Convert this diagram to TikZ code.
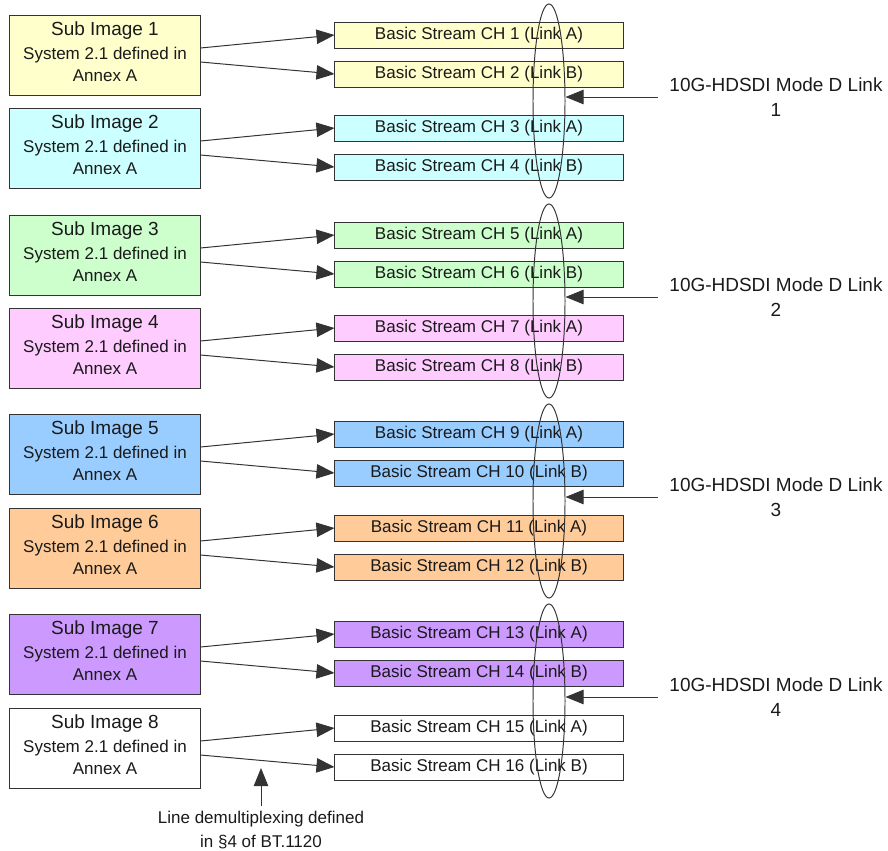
\documentclass[tikz,border=0pt]{standalone}
\usepackage{fontspec}
\setmainfont{Liberation Sans}
\usetikzlibrary{arrows.meta,shapes.geometric,calc}
\definecolor{ink}{HTML}{1A1A1A}
\definecolor{edge}{HTML}{333333}
\definecolor{subyellow}{HTML}{FFFFCC}
\definecolor{subcyan}{HTML}{CCFFFF}
\definecolor{subgreen}{HTML}{CCFFCC}
\definecolor{subpink}{HTML}{FFCCFF}
\definecolor{subblue}{HTML}{99CCFF}
\definecolor{suborange}{HTML}{FFCC99}
\definecolor{subpurple}{HTML}{CC99FF}

\begin{document}
\begin{tikzpicture}[x=0.025cm, y=-0.025cm,
  subimg/.style={draw=edge, line width=0.7pt, minimum width=4.75cm, minimum height=2cm,
                 align=center, font=\fontsize{12.1}{15.6}\selectfont, text=ink, inner sep=1pt,
                 text depth=5pt},
  stream/.style={draw=edge, line width=0.7pt, minimum width=7.2cm, minimum height=0.65cm,
                 font=\fontsize{12.1}{14}\selectfont, text=ink, inner sep=0pt},
  linkring/.style={ellipse, draw=edge, line width=0.7pt, minimum width=0.8cm,
                   minimum height=4.85cm, inner sep=0pt},
  linklabel/.style={align=center, font=\fontsize{13.5}{17.8}\selectfont, text=ink, inner xsep=8pt},
  flarrow/.style={-{Triangle[length=0.45cm,width=0.36cm]}, edge, line width=0.7pt}
]
  \useasboundingbox (0,0) rectangle (888,850);

  % ── Left: Sub images ──
  \node[subimg, fill=subyellow] (sub1) at (105,55)
    {{\fontsize{13.5}{16}\selectfont Sub Image 1}\\[2pt] System 2.1 defined in\\ Annex A};
  \node[subimg, fill=subcyan] (sub2) at (105,148)
    {{\fontsize{13.5}{16}\selectfont Sub Image 2}\\[2pt] System 2.1 defined in\\ Annex A};
  \node[subimg, fill=subgreen] (sub3) at (105,255)
    {{\fontsize{13.5}{16}\selectfont Sub Image 3}\\[2pt] System 2.1 defined in\\ Annex A};
  \node[subimg, fill=subpink] (sub4) at (105,348)
    {{\fontsize{13.5}{16}\selectfont Sub Image 4}\\[2pt] System 2.1 defined in\\ Annex A};
  \node[subimg, fill=subblue] (sub5) at (105,454)
    {{\fontsize{13.5}{16}\selectfont Sub Image 5}\\[2pt] System 2.1 defined in\\ Annex A};
  \node[subimg, fill=suborange] (sub6) at (105,548)
    {{\fontsize{13.5}{16}\selectfont Sub Image 6}\\[2pt] System 2.1 defined in\\ Annex A};
  \node[subimg, fill=subpurple] (sub7) at (105,654)
    {{\fontsize{13.5}{16}\selectfont Sub Image 7}\\[2pt] System 2.1 defined in\\ Annex A};
  \node[subimg, fill=white] (sub8) at (105,748)
    {{\fontsize{13.5}{16}\selectfont Sub Image 8}\\[2pt] System 2.1 defined in\\ Annex A};

  % ── Middle: Basic streams ──
  \node[stream, fill=subyellow] (ch1) at (479,35) {Basic Stream CH 1 (Link A)};
  \node[stream, fill=subyellow] (ch2) at (479,74) {Basic Stream CH 2 (Link B)};
  \node[stream, fill=subcyan] (ch3) at (479,128) {Basic Stream CH 3 (Link A)};
  \node[stream, fill=subcyan] (ch4) at (479,167) {Basic Stream CH 4 (Link B)};
  \node[stream, fill=subgreen] (ch5) at (479,235) {Basic Stream CH 5 (Link A)};
  \node[stream, fill=subgreen] (ch6) at (479,274) {Basic Stream CH 6 (Link B)};
  \node[stream, fill=subpink] (ch7) at (479,328) {Basic Stream CH 7 (Link A)};
  \node[stream, fill=subpink] (ch8) at (479,367) {Basic Stream CH 8 (Link B)};
  \node[stream, fill=subblue] (ch9) at (479,434) {Basic Stream CH 9 (Link A)};
  \node[stream, fill=subblue] (ch10) at (479,473) {Basic Stream CH 10 (Link B)};
  \node[stream, fill=suborange] (ch11) at (479,528) {Basic Stream CH 11 (Link A)};
  \node[stream, fill=suborange] (ch12) at (479,567) {Basic Stream CH 12 (Link B)};
  \node[stream, fill=subpurple] (ch13) at (479,634) {Basic Stream CH 13 (Link A)};
  \node[stream, fill=subpurple] (ch14) at (479,673) {Basic Stream CH 14 (Link B)};
  \node[stream, fill=white] (ch15) at (479,728) {Basic Stream CH 15 (Link A)};
  \node[stream, fill=white] (ch16) at (479,767) {Basic Stream CH 16 (Link B)};

  % Arrows: sub images → streams
  \draw[flarrow] ($(sub1.east)+(0,-7)$) -- (ch1.west);
  \draw[flarrow] ($(sub1.east)+(0,7)$) -- (ch2.west);
  \draw[flarrow] ($(sub2.east)+(0,-7)$) -- (ch3.west);
  \draw[flarrow] ($(sub2.east)+(0,7)$) -- (ch4.west);
  \draw[flarrow] ($(sub3.east)+(0,-7)$) -- (ch5.west);
  \draw[flarrow] ($(sub3.east)+(0,7)$) -- (ch6.west);
  \draw[flarrow] ($(sub4.east)+(0,-7)$) -- (ch7.west);
  \draw[flarrow] ($(sub4.east)+(0,7)$) -- (ch8.west);
  \draw[flarrow] ($(sub5.east)+(0,-7)$) -- (ch9.west);
  \draw[flarrow] ($(sub5.east)+(0,7)$) -- (ch10.west);
  \draw[flarrow] ($(sub6.east)+(0,-7)$) -- (ch11.west);
  \draw[flarrow] ($(sub6.east)+(0,7)$) -- (ch12.west);
  \draw[flarrow] ($(sub7.east)+(0,-7)$) -- (ch13.west);
  \draw[flarrow] ($(sub7.east)+(0,7)$) -- (ch14.west);
  \draw[flarrow] ($(sub8.east)+(0,-7)$) -- (ch15.west);
  \draw[flarrow] ($(sub8.east)+(0,7)$) -- (ch16.west);

  % ── Link rings ──
  \node[linkring] (ring1) at (549,101) {};
  \node[linkring] (ring2) at (549,301) {};
  \node[linkring] (ring3) at (549,501) {};
  \node[linkring] (ring4) at (549,701) {};

  % ── Right: 10G links ──
  \node[linklabel] (link1) at (776,97) {10G-HDSDI Mode D Link\\1};
  \node[linklabel] (link2) at (776,297) {10G-HDSDI Mode D Link\\2};
  \node[linklabel] (link3) at (776,497) {10G-HDSDI Mode D Link\\3};
  \node[linklabel] (link4) at (776,697) {10G-HDSDI Mode D Link\\4};

  \draw[flarrow] (link1.west) -- (link1.west -| ring1.east);
  \draw[flarrow] (link2.west) -- (link2.west -| ring2.east);
  \draw[flarrow] (link3.west) -- (link3.west -| ring3.east);
  \draw[flarrow] (link4.west) -- (link4.west -| ring4.east);

  % ── Bottom: demux note ──
  \node[align=center, font=\fontsize{12.1}{17}\selectfont, text=ink] (demux) at (261,830)
    {Line demultiplexing defined\\in §4 of BT.1120};
  \coordinate (demuxtip) at (261,768);
  \draw[flarrow] (demux.north) -- (demuxtip);
\end{tikzpicture}
\end{document}
